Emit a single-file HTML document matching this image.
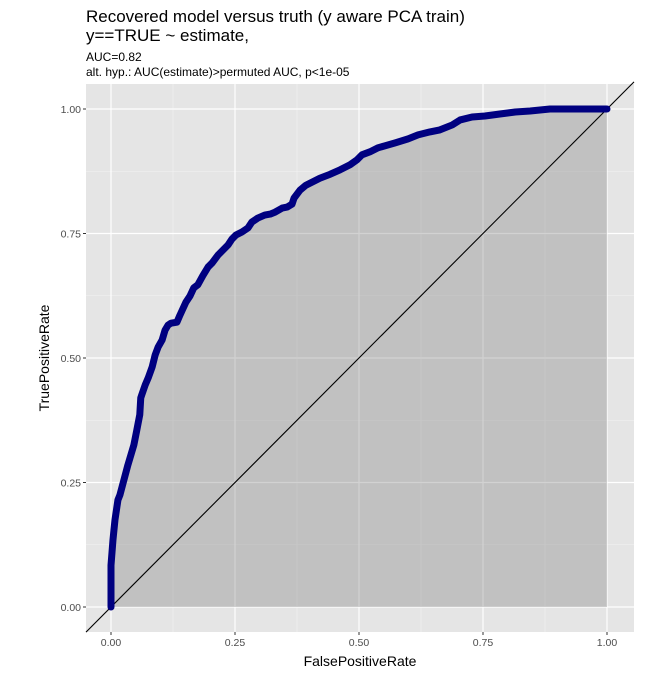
<!DOCTYPE html>
<html><head><meta charset="utf-8"><style>
body{margin:0;background:#fff}
svg text{font-family:"Liberation Sans",Arial,sans-serif}
</style></head><body>
<svg id="chart" width="672" height="672">
<text x="86" y="22" font-size="17" fill="#000">Recovered model versus truth (y aware PCA train)</text>
<text x="86" y="41" font-size="17" fill="#000">y==TRUE ~ estimate,</text>
<text x="86" y="61" font-size="12" fill="#000">AUC=0.82</text>
<text x="86" y="76" font-size="12" fill="#000">alt. hyp.: AUC(estimate)&gt;permuted AUC, p&lt;1e-05</text>
<rect x="86" y="84" width="548" height="548" fill="#e5e5e5"/>
<g id="grid"></g>
<g id="marks"></g>
<g id="axes"></g>
<text x="360" y="666" font-size="14" text-anchor="middle" fill="#000">FalsePositiveRate</text>
<text x="0" y="0" font-size="14" text-anchor="middle" fill="#000" transform="translate(49,358) rotate(-90)">TruePositiveRate</text>
</svg>
<script>
const fpr=[0,0,.004,.008,.014,.018,.026,.034,.040,.046,.052,.058,.060,.062,.069,.075,.083,.089,.095,.103,.109,.115,.121,.133,.139,.151,.159,.167,.175,.185,.196,.204,.216,.226,.236,.244,.252,.264,.276,.284,.296,.310,.321,.331,.345,.355,.365,.369,.381,.393,.405,.421,.442,.462,.482,.496,.506,.522,.538,.552,.573,.599,.619,.643,.663,.688,.704,.728,.754,.784,.815,.845,.885,1];
const tpr=[0,.084,.135,.175,.215,.225,.255,.285,.305,.325,.355,.386,.420,.426,.446,.460,.482,.506,.522,.536,.556,.566,.570,.572,.586,.612,.624,.641,.647,.665,.683,.691,.707,.717,.727,.739,.747,.753,.761,.773,.781,.787,.789,.793,.801,.803,.809,.821,.837,.847,.853,.861,.869,.878,.888,.898,.908,.914,.922,.926,.932,.940,.948,.954,.958,.968,.978,.984,.986,.990,.994,.996,1,1];
const xTicks=[0,0.25,0.5,0.75,1];
const yTicks=[0,0.25,0.5,0.75,1];
const xTickLabels=["0.00","0.25","0.50","0.75","1.00"];
const yTickLabels=["0.00","0.25","0.50","0.75","1.00"];
const NS="http://www.w3.org/2000/svg";
const X0=86,X1=634,Y0=84,Y1=632;
const sx=v=>111+v*496;
const sy=v=>607-v*498;
function mk(tag,attrs,parent){const e=document.createElementNS(NS,tag);for(const k in attrs)e.setAttribute(k,attrs[k]);parent.appendChild(e);return e;}
const grid=document.getElementById('grid'),marks=document.getElementById('marks'),axes=document.getElementById('axes');
for(let i=0;i<xTicks.length-1;i++){
  const mx=(xTicks[i]+xTicks[i+1])/2,my=(yTicks[i]+yTicks[i+1])/2;
  let l=mk('line',{x1:sx(mx),x2:sx(mx),y1:Y0,y2:Y1,stroke:'#f2f2f2','stroke-width':0.6},grid);
  
  
  l=mk('line',{x1:X0,x2:X1,y1:sy(my),y2:sy(my),stroke:'#f2f2f2','stroke-width':0.6},grid);
  
  
}
xTicks.forEach((t,i)=>{
  let l=mk('line',{x1:sx(t),x2:sx(t),y1:Y0,y2:Y1,stroke:'#fff','stroke-width':1.2},grid);
  
  
  mk('line',{x1:sx(t),x2:sx(t),y1:Y1,y2:Y1+3,stroke:'#333','stroke-width':1},axes);
  const tx=mk('text',{x:sx(t),y:Y1+14,'font-size':10.5,'text-anchor':'middle',fill:'#4d4d4d'},axes);
  tx.textContent=xTickLabels[i];
  
  
});
yTicks.forEach((t,i)=>{
  let l=mk('line',{x1:X0,x2:X1,y1:sy(t),y2:sy(t),stroke:'#fff','stroke-width':1.2},grid);
  
  
  mk('line',{x1:X0-3,x2:X0,y1:sy(t),y2:sy(t),stroke:'#333','stroke-width':1},axes);
  const tx=mk('text',{x:X0-5,y:sy(t)+4,'font-size':10.5,'text-anchor':'end',fill:'#4d4d4d'},axes);
  tx.textContent=yTickLabels[i];
  
  
});
let pts=fpr.map((v,i)=>sx(v)+','+sy(tpr[i]));
const area=mk('polygon',{points:pts.join(' ')+' '+sx(1)+','+sy(0)+' '+sx(0)+','+sy(0),fill:'#7f7f7f','fill-opacity':0.35},marks);


const diag=mk('line',{x1:X0,y1:sy((X0-111)/496),x2:X1,y2:sy((X1-111)/496),stroke:'#000','stroke-width':1.1},marks);


const roc=mk('polyline',{points:pts.join(' '),fill:'none',stroke:'#000080','stroke-width':7,'stroke-linejoin':'round','stroke-linecap':'round'},marks);


</script>
</body></html>
